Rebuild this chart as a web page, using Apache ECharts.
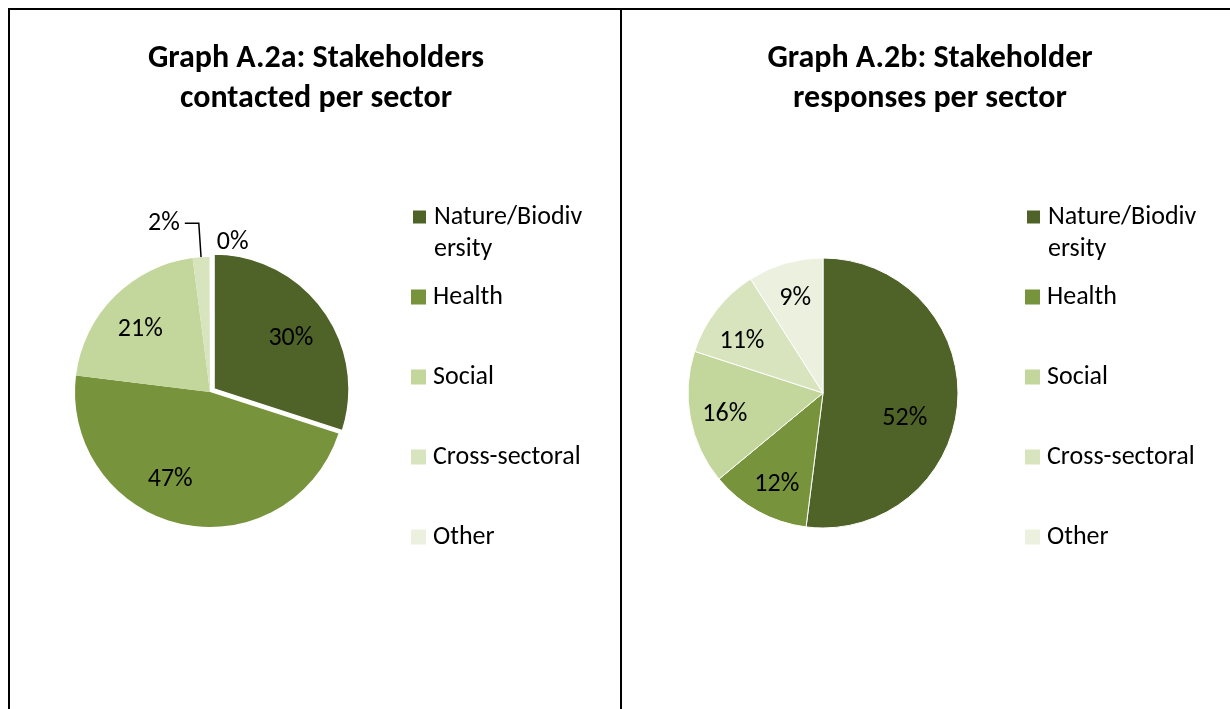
<!DOCTYPE html>
<html>
<head>
<meta charset="utf-8">
<script src="https://cdn.jsdelivr.net/npm/echarts@6/dist/echarts.min.js"></script>
<style>
  html, body { margin: 0; padding: 0; background: #fff; }
  #main { width: 1230px; height: 709px; }
</style>
</head>
<body>
<div id="main"></div>
<script>
var sectors = ['Nature/Biodiversity', 'Health', 'Social', 'Cross-sectoral', 'Other'];
var sectorColors = ['#4F6228', '#77933C', '#C3D69B', '#D7E4BD', '#EBF1DE'];
var contactedPct = [30, 47, 21, 2, 0];
var responsesPct = [52, 12, 16, 11, 9];
var titles = ['Graph A.2a: Stakeholders\ncontacted per sector', 'Graph A.2b: Stakeholder\nresponses per sector'];
// small slices of the left pie get an outside label instead of an inside one
var outsideLabels = ['Cross-sectoral', 'Other'];

var FONT = 'Carlito, Lato, sans-serif';
var chart = echarts.init(document.getElementById('main'));

// panel layout; nudge = Excel "best fit" shifts of the inside labels
var panels = [
    { values: contactedPct, center: [210, 392], legendX: 411, titleX: 316, explode: true, outside: true,
      nudge: [[0, 5], [-18, -10], [1, 8], [0, 0], [0, 0]] },
    { values: responsesPct, center: [823, 393], legendX: 1025, titleX: 930, explode: false, outside: false,
      nudge: [[-18, 19], [2, 4], [0, 3], [-2, 10], [0, 2]] }
];
var R = 135;
var legendRows = [217, 297, 377, 457, 537]; // icon centre y of each legend row

var series = [];
var labelSeries = [];
var legends = [];

panels.forEach(function (p, pi) {
    var data = sectors.map(function (name, i) {
        var item = {
            name: name,
            value: p.values[i],
            itemStyle: { color: sectorColors[i] }
        };
        if (p.explode && i === 0) {
            item.selected = true;
            item.itemStyle.borderColor = '#fff';
            item.itemStyle.borderWidth = 1.5;
        }
        if (p.outside && outsideLabels.indexOf(name) >= 0) {
            item.label = { show: true, position: 'outside' };
            if (p.values[i] > 0) {
                item.labelLine = { show: true, length: 34, length2: 14 };
            } else {
                item.labelLine = { show: false, length: 15, length2: 2 };
            }
        }
        return item;
    });
    series.push({
        type: 'pie',
        radius: R,
        center: p.center,
        startAngle: 90,
        clockwise: true,
        minAngle: p.outside ? 0.2 : 0,
        avoidLabelOverlap: false,
        selectedMode: p.explode ? 'single' : false,
        selectedOffset: 5,
        itemStyle: p.explode ? { borderWidth: 0 } : { borderColor: '#fff', borderWidth: 1 },
        label: { show: false, formatter: '{c}%', fontSize: 26, color: '#000', fontFamily: FONT },
        labelLine: { lineStyle: { color: '#000', width: 1.5 }, smooth: false },
        // the zero slice ends at 12 o'clock; Excel writes its label on the right
        labelLayout: function (params) {
            if (p.values[params.dataIndex] === 0) {
                return { align: 'left', dx: 14 };
            }
        },
        emphasis: { disabled: true },
        data: data
    });
    // transparent twin pie that only carries the inside labels
    labelSeries.push({
        type: 'pie',
        radius: [0, 194],
        center: p.center,
        startAngle: 90,
        clockwise: true,
        silent: true,
        z: 3,
        legendHoverLink: false,
        itemStyle: { color: 'rgba(0,0,0,0)', borderWidth: 0 },
        label: { show: true, position: 'inside', formatter: '{c}%', fontSize: 26, color: '#000', fontFamily: FONT },
        labelLine: { show: false },
        labelLayout: function (params) {
            var n = p.nudge[params.dataIndex];
            return { dx: n[0], dy: n[1] };
        },
        emphasis: { disabled: true },
        data: sectors.map(function (name, i) {
            var hide = p.outside && outsideLabels.indexOf(name) >= 0;
            return { name: name, value: p.values[i], label: { show: !hide } };
        })
    });
    sectors.forEach(function (name, i) {
        var wrap = name === 'Nature/Biodiversity';
        legends.push({
            orient: 'vertical',
            left: p.legendX,
            top: wrap ? legendRows[i] - 48 : legendRows[i] - 16,
            padding: 0,
            itemWidth: 15,
            itemHeight: 15,
            itemGap: 0,
            icon: 'rect',
            selectedMode: false,
            data: [name],
            // leading empty line keeps the first text line level with the icon
            formatter: function (n) { return n === 'Nature/Biodiversity' ? '\nNature/Biodiv\nersity' : n; },
            textStyle: { fontSize: 26, color: '#000', fontFamily: FONT, lineHeight: 32, padding: [0, 0, 0, 2] }
        });
    });
});

var option = {
    backgroundColor: '#fff',
    animation: false,
    title: panels.map(function (p, pi) {
        return {
            text: titles[pi],
            left: p.titleX,
            top: 39,
            textAlign: 'center',
            padding: 0,
            textStyle: { fontSize: 32, fontWeight: 'bold', color: '#000', lineHeight: 40, fontFamily: FONT }
        };
    }),
    legend: legends,
    graphic: [
        { type: 'line', shape: { x1: 8, y1: 9, x2: 1230, y2: 9 }, style: { stroke: '#000', lineWidth: 2 } },
        { type: 'line', shape: { x1: 9, y1: 8, x2: 9, y2: 709 }, style: { stroke: '#000', lineWidth: 2 } },
        { type: 'line', shape: { x1: 621, y1: 8, x2: 621, y2: 709 }, style: { stroke: '#000', lineWidth: 2 } }
    ],
    series: series.concat(labelSeries)
};
chart.setOption(option);
</script>
</body>
</html>
